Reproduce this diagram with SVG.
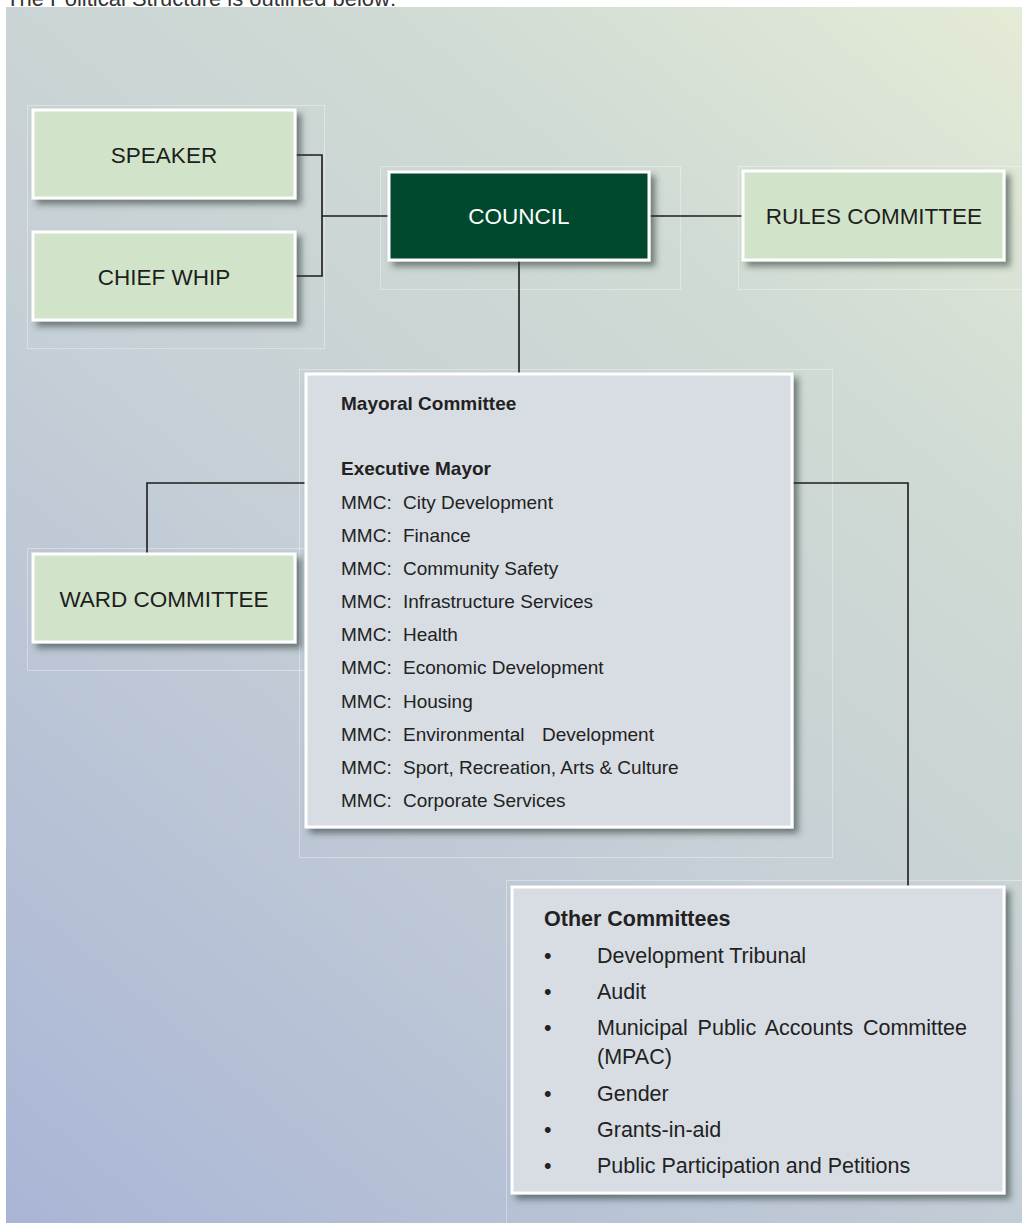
<svg xmlns="http://www.w3.org/2000/svg" width="1022" height="1223" viewBox="0 0 1022 1223">
<defs>
<linearGradient id="bg" gradientUnits="userSpaceOnUse" x1="6" y1="1223" x2="1022" y2="7">
<stop offset="0" stop-color="#aab5d6"/>
<stop offset="0.45" stop-color="#c5cfd6"/>
<stop offset="0.75" stop-color="#d0dbd4"/>
<stop offset="1" stop-color="#e4ebd6"/>
</linearGradient>
<filter id="sh" x="-10%" y="-10%" width="125%" height="130%">
<feDropShadow dx="5" dy="5" stdDeviation="3" flood-color="#2a3533" flood-opacity="0.55"/>
</filter>
<style>
.box{stroke:#ffffff;stroke-width:3;filter:url(#sh)}
.green{fill:#d1e4c9}
.dark{fill:#004a2f}
.grey{fill:#d8dde3}
.frame{fill:none;stroke:#ffffff;stroke-opacity:0.35;stroke-width:1}
.lbl{font-family:"Liberation Sans",Arial,sans-serif;font-size:22.5px;fill:#1e1e1e;text-anchor:middle}
.lblw{font-family:"Liberation Sans",Arial,sans-serif;font-size:22.5px;fill:#ffffff;text-anchor:middle}
.t{font-family:"Liberation Sans",Arial,sans-serif;font-size:19px;fill:#222222}
.tb{font-family:"Liberation Sans",Arial,sans-serif;font-size:19px;font-weight:bold;fill:#222222}
.o{font-family:"Liberation Sans",Arial,sans-serif;font-size:21.5px;fill:#222222}
.ob{font-family:"Liberation Sans",Arial,sans-serif;font-size:21.5px;font-weight:bold;fill:#222222}
.conn{fill:none;stroke:#1c1c1c;stroke-width:1.6}
</style>
</defs>
<rect x="0" y="0" width="1022" height="1223" fill="#ffffff"/>
<text x="6" y="6" font-family="'Liberation Sans',Arial,sans-serif" font-size="22" fill="#333333">The Political Structure is outlined below:</text>
<rect x="6" y="7" width="1016" height="1216" fill="url(#bg)"/>

<g id="frames">
<rect class="frame" x="27.5" y="105.5" width="297" height="243"/>
<rect class="frame" x="380.5" y="166.5" width="300" height="123"/>
<rect class="frame" x="738.5" y="166.5" width="284" height="123"/>
<rect class="frame" x="27.5" y="548.5" width="278" height="122"/>
<rect class="frame" x="299.5" y="369.5" width="533" height="488"/>
<rect class="frame" x="506.5" y="880.5" width="516" height="343"/>
</g>

<g id="connectors">
<path class="conn" d="M296 155 H322 V276 H296"/>
<path class="conn" d="M322 216 H388"/>
<path class="conn" d="M650 216 H742"/>
<path class="conn" d="M519 260 V373"/>
<path class="conn" d="M305 483 H147 V553"/>
<path class="conn" d="M793 483 H908 V886"/>
</g>

<g id="speaker">
<rect class="box green" x="33" y="110" width="262" height="88"/>
<text class="lbl" x="164" y="163">SPEAKER</text>
</g>
<g id="chief-whip">
<rect class="box green" x="33" y="232" width="262" height="88"/>
<text class="lbl" x="164" y="285">CHIEF WHIP</text>
</g>
<g id="council">
<rect class="box dark" x="389" y="172" width="260" height="88"/>
<text class="lblw" x="519" y="224">COUNCIL</text>
</g>
<g id="rules-committee">
<rect class="box green" x="743" y="171" width="261" height="89"/>
<text class="lbl" x="874" y="224">RULES COMMITTEE</text>
</g>
<g id="ward-committee">
<rect class="box green" x="33" y="554" width="262" height="88"/>
<text class="lbl" x="164" y="607">WARD COMMITTEE</text>
</g>
<g id="mayoral-committee">
<rect class="box grey" x="306" y="374" width="486" height="453"/>
<text class="tb" x="341" y="410">Mayoral Committee</text>
<text class="tb" x="341" y="475">Executive Mayor</text>
<text class="t" x="341" y="509">MMC:<tspan x="403">City Development</tspan></text>
<text class="t" x="341" y="542">MMC:<tspan x="403">Finance</tspan></text>
<text class="t" x="341" y="575">MMC:<tspan x="403">Community Safety</tspan></text>
<text class="t" x="341" y="608">MMC:<tspan x="403">Infrastructure Services</tspan></text>
<text class="t" x="341" y="641">MMC:<tspan x="403">Health</tspan></text>
<text class="t" x="341" y="674">MMC:<tspan x="403">Economic Development</tspan></text>
<text class="t" x="341" y="708">MMC:<tspan x="403">Housing</tspan></text>
<text class="t" x="341" y="741">MMC:<tspan x="403">Environmental</tspan><tspan x="542">Development</tspan></text>
<text class="t" x="341" y="774">MMC:<tspan x="403">Sport, Recreation, Arts &amp; Culture</tspan></text>
<text class="t" x="341" y="807">MMC:<tspan x="403">Corporate Services</tspan></text>
</g>
<g id="other-committees">
<rect class="box grey" x="512" y="887" width="492" height="306"/>
<text class="ob" x="544" y="926">Other Committees</text>
<text class="o" x="544" y="963">•<tspan x="597">Development Tribunal</tspan></text>
<text class="o" x="544" y="999">•<tspan x="597">Audit</tspan></text>
<text class="o" x="544" y="1035">•<tspan x="597" word-spacing="3.8">Municipal Public Accounts Committee</tspan></text>
<text class="o" x="597" y="1064">(MPAC)</text>
<text class="o" x="544" y="1101">•<tspan x="597">Gender</tspan></text>
<text class="o" x="544" y="1137">•<tspan x="597">Grants-in-aid</tspan></text>
<text class="o" x="544" y="1173">•<tspan x="597">Public Participation and Petitions</tspan></text>
</g>
</svg>
